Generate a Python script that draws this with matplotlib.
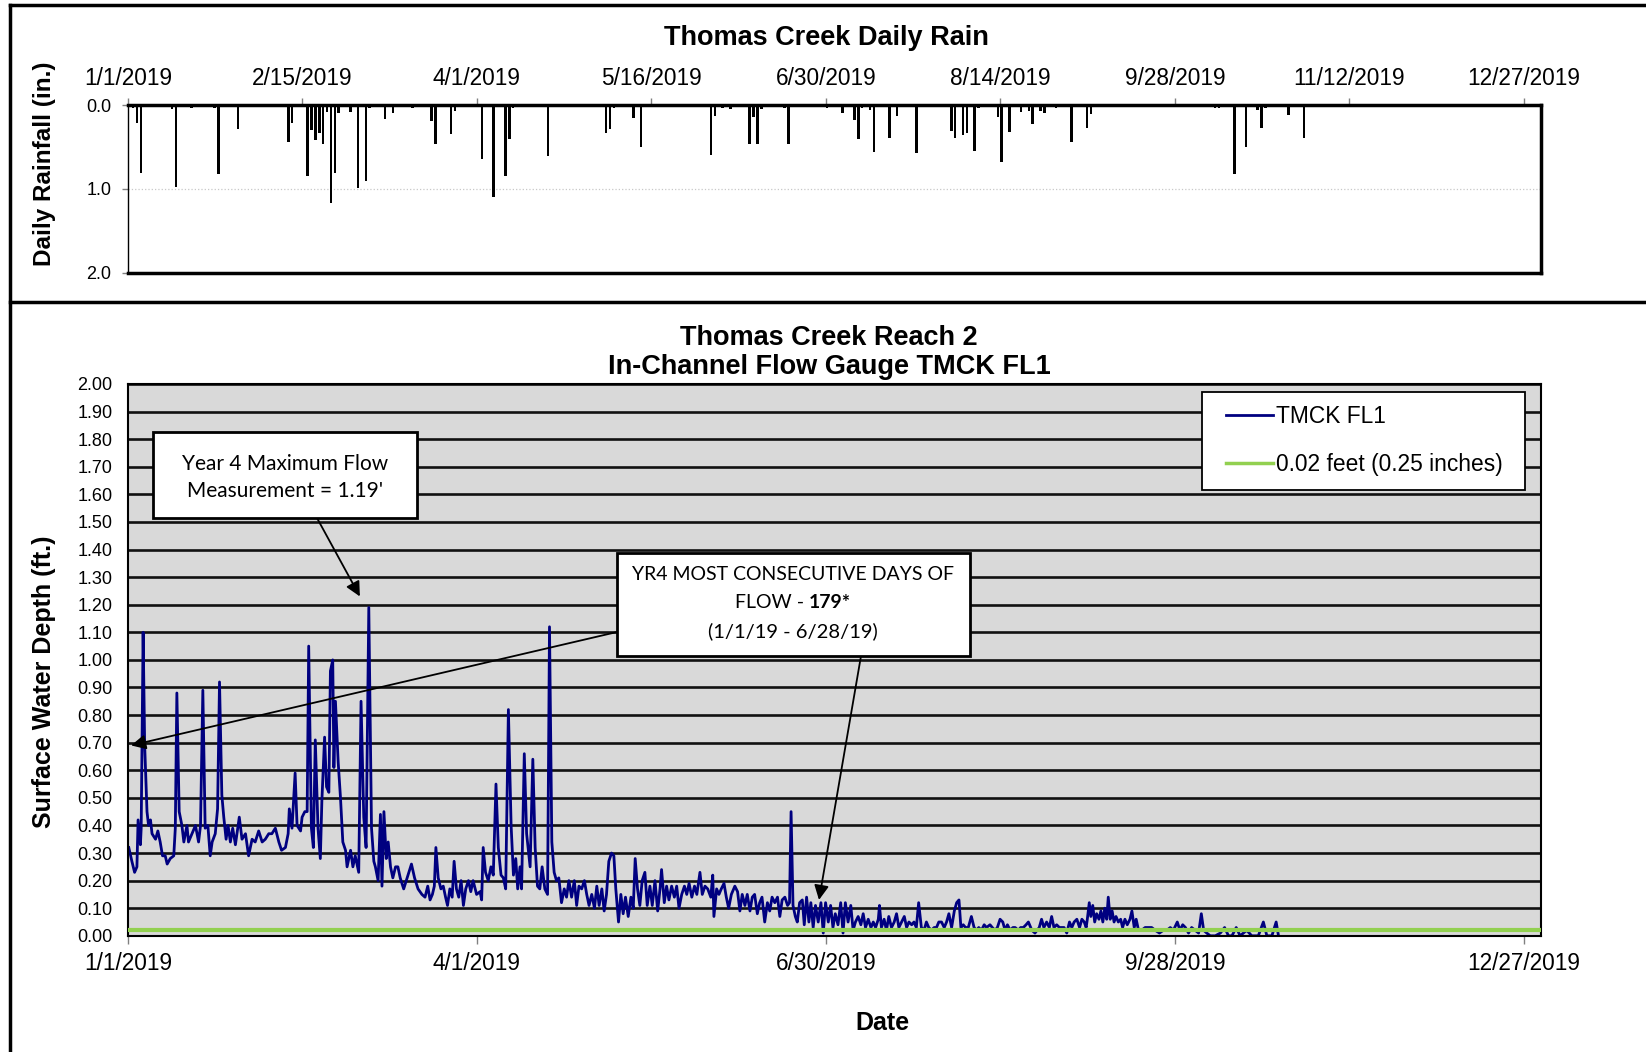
import numpy as np
import pandas as pd
import matplotlib
matplotlib.use('Agg')
import matplotlib.pyplot as plt
import matplotlib.dates as mdates
from matplotlib.lines import Line2D
from matplotlib.patches import Rectangle

plt.rcParams['font.family'] = ['Liberation Sans', 'DejaVu Sans']

# ---------------------------------------------------------
# Data
# ---------------------------------------------------------
start = pd.Timestamp('2019-01-01')

# daily rain: day of year offset from 1/1/2019, inches
rain_day = [1, 2, 3, 11, 12, 16, 22, 23, 28, 41, 42, 46, 47, 48, 49, 50, 51, 52, 53, 54,
            57, 59, 61, 62, 66, 68, 73, 78, 79, 83, 84, 91, 94, 97, 98, 99, 100, 101, 102, 103,
            108, 123, 124, 125, 130, 132, 150, 151, 153, 155, 158, 160, 161, 162, 163, 169, 170,
            180, 184, 187, 188, 189, 191, 192, 196, 198, 203, 212, 213, 215, 216, 218, 219,
            224, 225, 227, 230, 232, 233, 235, 236, 239, 243, 247, 248, 270, 280, 281, 285,
            288, 291, 292, 293, 299, 303]
rain_in = [0.03, 0.22, 0.81, 0.05, 0.98, 0.04, 0.04, 0.82, 0.29, 0.44, 0.21, 0.85, 0.30, 0.42,
           0.33, 0.47, 0.08, 1.17, 0.81, 0.09, 0.08, 0.99, 0.91, 0.03, 0.17, 0.10, 0.03, 0.19,
           0.47, 0.35, 0.07, 0.65, 1.10, 0.85, 0.40, 0.04, 0.02, 0.02, 0.02, 0.02, 0.61, 0.34,
           0.29, 0.03, 0.15, 0.50, 0.60, 0.13, 0.03, 0.05, 0.02, 0.46, 0.14, 0.46, 0.05, 0.03,
           0.47, 0.04, 0.09, 0.18, 0.40, 0.03, 0.06, 0.56, 0.39, 0.13, 0.57, 0.31, 0.39, 0.36,
           0.33, 0.55, 0.03, 0.14, 0.68, 0.32, 0.08, 0.07, 0.23, 0.07, 0.09, 0.03, 0.44, 0.27,
           0.11, 0.02, 0.03, 0.04, 0.82, 0.50, 0.06, 0.28, 0.03, 0.12, 0.39]

# flow gauge: fractional day offset from 1/1/2019, depth in feet
flow_day = [0.2, 1.0, 1.7, 2.3, 2.6, 3.2, 3.4, 3.9, 4.3, 4.9, 5.3, 5.8, 6.2, 7.1, 7.7, 8.3, 8.9,
            9.6, 10.1, 10.9, 11.8, 12.2, 12.6, 13.2, 13.9, 14.4, 15.2, 15.6, 16.5, 17.4, 18.2,
            18.7, 19.3, 19.9, 20.6, 21.2, 21.7, 22.5, 23.1, 23.6, 24.2, 24.7, 25.3, 25.8, 26.4,
            27.0, 27.7, 28.7, 29.4, 30.3, 31.1, 32.0, 32.8, 33.7, 34.6, 35.4, 36.3, 37.1, 38.0,
            38.9, 39.6, 40.6, 41.3, 41.6, 42.3, 43.1, 43.6, 44.5, 44.9, 45.6, 46.2, 46.6, 47.3,
            47.8, 48.3, 49.0, 49.6, 50.0, 50.7, 51.2, 51.8, 52.2, 52.8, 53.1, 53.5, 54.2, 54.8,
            55.4, 56.1, 56.5, 57.4, 58.0, 58.6, 59.5, 60.1, 60.8, 61.4, 62.1, 62.8, 63.4, 63.8,
            64.5, 65.1, 65.5, 66.0, 66.6, 67.1, 67.7, 68.3, 69.0, 69.6, 70.2, 71.1, 72.0, 73.1,
            73.9, 74.8, 75.8,
            76.6, 77.3, 77.9, 78.5, 79.0, 79.4, 80.0, 80.7, 81.3, 81.9, 82.4, 83.0, 83.6, 84.1,
            84.7, 85.3, 85.9, 86.5, 87.1, 87.8, 88.4, 89.0, 89.9, 90.8, 91.2, 91.6, 92.2, 92.9,
            93.6, 94.2, 94.9, 95.5, 96.2, 96.8, 97.4, 98.1, 98.8, 99.4, 100.0, 100.5, 101.1,
            101.5, 102.2, 102.8, 103.7, 104.4, 105.0, 105.6, 106.2, 106.8, 107.5, 108.2, 108.7,
            109.3, 109.9, 110.5, 111.1, 111.8, 112.5, 113.1, 113.7, 114.4, 115.1, 115.7, 116.3,
            117.0, 117.7, 118.3, 118.9, 119.6, 120.3, 120.9, 121.5, 122.2, 122.8, 123.4, 124.0,
            124.7, 125.3, 125.8, 126.5, 127.1, 127.7, 128.3, 129.0, 129.7, 130.3, 130.8, 131.4,
            132.0, 132.6, 133.3, 133.9, 134.6, 135.2, 135.9, 136.6, 137.2, 137.6, 138.3, 138.9,
            139.5, 140.2, 140.9, 141.5, 142.1, 142.8, 143.5, 144.1, 144.7, 145.4, 146.1, 146.7,
            147.5, 148.1, 148.8, 149.5,
            150.3, 150.8, 151.1, 151.8, 152.4, 153.0, 153.7, 154.3, 154.9, 155.6, 156.5, 157.2,
            157.8, 158.4, 159.1, 159.7, 160.4, 161.0, 161.6, 162.3, 162.9, 163.5, 164.2, 164.9,
            165.5, 166.1, 166.8, 167.5, 168.1, 168.7, 169.4, 170.1, 170.6, 171.0, 171.5, 172.1,
            172.6, 173.2, 173.9, 174.4, 175.0, 175.6, 176.1, 176.7, 177.3, 178.0, 178.7, 179.3,
            179.9, 180.6, 181.2, 181.8, 182.4, 183.1, 183.8, 184.4, 185.0, 185.7, 186.4, 187.0,
            187.6, 188.3, 189.0, 189.6, 190.2, 190.9, 191.6, 192.2, 192.8, 193.5, 193.8, 194.3,
            195.0, 195.6, 196.2, 196.9, 197.6, 198.2, 198.8, 199.5, 200.2, 200.8, 201.4, 202.1,
            202.7, 203.3, 203.9, 204.6, 205.3, 205.9, 206.5, 207.2, 207.9, 208.5, 209.1, 209.8,
            210.5, 211.1, 211.7, 212.4, 213.1, 213.7, 214.3, 214.8, 215.4, 216.0, 216.7, 217.5,
            218.2, 218.8, 219.4, 220.1, 220.8, 221.4, 222.3, 222.9, 223.6, 224.2,
            224.9, 225.6, 226.2, 226.8, 227.5, 228.2, 228.8, 229.6, 230.2, 230.9, 231.6, 232.2,
            233.1, 233.9, 235.0, 235.6, 236.2, 236.9, 237.6, 238.2, 238.8, 239.5, 240.2, 240.8,
            241.4, 242.1, 242.8, 243.4, 244.0, 244.7, 245.4, 246.0, 246.6, 247.1, 247.4, 247.9,
            248.3, 248.8, 249.3, 249.8, 250.4, 250.9, 251.4, 251.9, 252.4, 252.8, 253.3, 253.8,
            254.3, 254.8, 255.4, 256.0, 256.5, 257.1, 257.7, 258.4, 258.9, 259.5, 260.0, 260.6,
            261.4, 262.3, 263.2, 264.0, 264.9, 266.0, 267.0, 267.9, 268.8, 269.6, 270.6, 271.3,
            272.0, 272.7, 273.5, 274.3, 275.2, 276.1, 276.8, 277.4, 278.2, 279.1, 280.4, 281.7,
            282.8, 283.8, 284.7, 285.8, 286.8, 288.5, 289.8, 291.5, 292.8, 293.7, 295.0, 296.1,
            296.7]
flow_ft = [0.32, 0.27, 0.23, 0.25, 0.42, 0.33, 0.39, 1.10, 0.69, 0.45, 0.40, 0.42, 0.37, 0.35,
           0.38, 0.34, 0.29, 0.29, 0.26, 0.28, 0.29, 0.39, 0.88, 0.45, 0.40, 0.34, 0.40, 0.34,
           0.37, 0.40, 0.34, 0.40, 0.89, 0.39, 0.40, 0.29, 0.34, 0.37, 0.46, 0.92, 0.51, 0.43,
           0.35, 0.40, 0.34, 0.39, 0.33, 0.43, 0.35, 0.37, 0.29, 0.35, 0.34, 0.38, 0.34, 0.35,
           0.37, 0.37, 0.39, 0.34, 0.31, 0.32, 0.37, 0.46, 0.39, 0.59, 0.40, 0.38, 0.43, 0.45,
           0.45, 1.05, 0.39, 0.32, 0.71, 0.39, 0.28, 0.49, 0.72, 0.54, 0.52, 0.96, 1.00, 0.61,
           0.85, 0.63, 0.50, 0.34, 0.31, 0.25, 0.31, 0.25, 0.29, 0.23, 0.85, 0.43, 0.32, 1.19,
           0.39, 0.27, 0.25, 0.20, 0.44, 0.18, 0.45, 0.28, 0.34, 0.25, 0.21, 0.25, 0.25, 0.21,
           0.17, 0.21, 0.26, 0.21, 0.17, 0.15,
           0.14, 0.18, 0.13, 0.15, 0.18, 0.32, 0.21, 0.17, 0.18, 0.14, 0.11, 0.17, 0.14, 0.27,
           0.17, 0.14, 0.20, 0.11, 0.17, 0.20, 0.16, 0.20, 0.15, 0.16, 0.13, 0.32, 0.23, 0.20,
           0.25, 0.22, 0.55, 0.32, 0.22, 0.21, 0.17, 0.82, 0.40, 0.22, 0.28, 0.17, 0.25, 0.17,
           0.66, 0.37, 0.25, 0.64, 0.32, 0.18, 0.17, 0.25, 0.17, 0.15, 1.12, 0.34, 0.23, 0.20,
           0.21, 0.12, 0.17, 0.14, 0.20, 0.14, 0.20, 0.11, 0.18, 0.17, 0.20, 0.15, 0.11, 0.15,
           0.10, 0.18, 0.11, 0.17, 0.09, 0.15, 0.27, 0.30, 0.29, 0.17, 0.05, 0.15, 0.08, 0.14,
           0.07, 0.14, 0.10, 0.28, 0.17, 0.11, 0.20, 0.23, 0.11, 0.18, 0.11, 0.20, 0.09, 0.17,
           0.24, 0.12, 0.18, 0.13, 0.18, 0.14, 0.18, 0.10, 0.15, 0.18, 0.15, 0.19, 0.14, 0.18,
           0.15, 0.23, 0.15, 0.18, 0.17,
           0.14, 0.22, 0.07, 0.17, 0.15, 0.17, 0.19, 0.14, 0.10, 0.15, 0.18, 0.16, 0.09, 0.15,
           0.11, 0.15, 0.09, 0.14, 0.15, 0.08, 0.12, 0.14, 0.05, 0.12, 0.09, 0.14, 0.12, 0.14,
           0.07, 0.13, 0.14, 0.11, 0.12, 0.45, 0.11, 0.07, 0.05, 0.12, 0.13, 0.04, 0.14, 0.05,
           0.12, 0.03, 0.11, 0.05, 0.12, 0.01, 0.12, 0.05, 0.11, 0.03, 0.08, 0.04, 0.12, 0.01,
           0.12, 0.05, 0.11, 0.02, 0.05, 0.07, 0.04, 0.08, 0.03, 0.06, 0.03, 0.05, 0.03, 0.06,
           0.11, 0.03, 0.06, 0.02, 0.07, 0.03, 0.05, 0.08, 0.03, 0.05, 0.07, 0.03, 0.05, 0.04,
           0.05, 0.03, 0.12, 0.03, 0.02, 0.05, 0.03, 0.02, 0.03, 0.03, 0.05, 0.05, 0.03, 0.05,
           0.08, 0.03, 0.09, 0.12, 0.13, 0.03, 0.04, 0.03, 0.03, 0.07, 0.03, 0.02, 0.03, 0.02,
           0.04, 0.03, 0.04, 0.03, 0.02, 0.03,
           0.06, 0.05, 0.02, 0.04, 0.02, 0.03, 0.03, 0.02, 0.03, 0.03, 0.04, 0.05, 0.02, 0.01,
           0.03, 0.06, 0.03, 0.05, 0.03, 0.07, 0.03, 0.04, 0.03, 0.03, 0.03, 0.01, 0.05, 0.03,
           0.05, 0.06, 0.03, 0.06, 0.05, 0.03, 0.06, 0.12, 0.07, 0.11, 0.05, 0.08, 0.06, 0.09,
           0.05, 0.10, 0.06, 0.14, 0.06, 0.09, 0.05, 0.07, 0.05, 0.06, 0.03, 0.06, 0.04, 0.06,
           0.09, 0.03, 0.06, 0.02, 0.02, 0.03, 0.03, 0.03, 0.02, 0.01, 0.02, 0.02, 0.03, 0.02,
           0.05, 0.02, 0.04, 0.03, 0.01, 0.03, 0.02, 0.01, 0.08, 0.02, 0.01, 0.00, 0.00, 0.01,
           0.03, 0.00, 0.00, 0.03, 0.00, 0.02, 0.00, 0.00, 0.05, 0.00, 0.00, 0.05, 0.00]

low_flow_ft = 0.02

rain_ticks = ['1/1/2019', '2/15/2019', '4/1/2019', '5/16/2019', '6/30/2019',
              '8/14/2019', '9/28/2019', '11/12/2019', '12/27/2019']
flow_ticks = ['1/1/2019', '4/1/2019', '6/30/2019', '9/28/2019', '12/27/2019']


def to_date(days):
    return start + pd.to_timedelta(np.asarray(days, dtype=float), unit='D')


# ---------------------------------------------------------
# Figure / panel frames
# ---------------------------------------------------------
W, H = 1646, 1052
fig = plt.figure(figsize=(W / 100, H / 100), dpi=100)


def fx(px):
    return px / W


def fy(py):
    return 1 - py / H


for xs, ys in [([10, W], [5, 5]), ([10, 10], [5, H]), ([10, W], [302, 302])]:
    fig.add_artist(Line2D([fx(x) for x in xs], [fy(y) for y in ys], color='black', lw=2.5))

x_end = start + pd.Timedelta(days=364.4)
title_fs = 19.5
tick_fs = 16.3

# ---------------------------------------------------------
# Daily rain (top panel)
# ---------------------------------------------------------
ax1 = fig.add_axes([fx(128), fy(272.5), fx(1541) - fx(128), fy(105) - fy(272.5)])
ax1.bar(to_date(rain_day), rain_in, width=0.65, align='edge', color='black')
ax1.axhline(1.0, color='#c8c8c8', lw=0.9, ls=':', zorder=0)
ax1.set_ylim(2, 0)
ax1.set_xlim(start, x_end)
ax1.set_yticks([0, 1, 2])
ax1.yaxis.set_major_formatter('{x:.1f}')
ax1.xaxis.tick_top()
ax1.set_xticks(pd.to_datetime(rain_ticks))
ax1.set_xticklabels(rain_ticks)
ax1.tick_params(axis='x', direction='out', length=5, width=1, color='#808080',
                labelsize=tick_fs, pad=6)
ax1.tick_params(axis='y', direction='out', length=4, width=1, color='#808080', labelsize=13, pad=8)
for side, lw in [('top', 2.5), ('bottom', 2.5), ('right', 2.5), ('left', 1.0)]:
    ax1.spines[side].set_linewidth(lw)
fig.text(fx(45), fy(164), 'Daily Rainfall (in.)', rotation=90, fontsize=17.5,
         weight='bold', ha='center', va='center')
fig.text(fx(826), fy(38), 'Thomas Creek Daily Rain', fontsize=title_fs, weight='bold',
         ha='center', va='center')

# ---------------------------------------------------------
# Flow gauge (bottom panel)
# ---------------------------------------------------------
ax2 = fig.add_axes([fx(128), fy(935.8), fx(1541) - fx(128), fy(384) - fy(935.8)])
ax2.set_facecolor('#d9d9d9')
ax2.set_ylim(0, 2)
ax2.set_xlim(start, x_end)
ax2.set_yticks(np.arange(0, 2.001, 0.1))
ax2.yaxis.set_major_formatter('{x:.2f}')
ax2.grid(axis='y', color='#111111', lw=1.9)
ax2.set_axisbelow(True)
ax2.plot(to_date(flow_day), flow_ft, color='#000080', lw=2, zorder=2)
ax2.axhline(low_flow_ft, color='#92d050', lw=3, zorder=3)
ax2.set_xticks(pd.to_datetime(flow_ticks))
ax2.set_xticklabels(flow_ticks)
ax2.tick_params(axis='x', direction='out', length=6, width=1, color='#808080',
                labelsize=tick_fs, pad=6)
ax2.tick_params(axis='y', length=0, labelsize=13, pad=11)
for side in ax2.spines:
    ax2.spines[side].set_linewidth(1.5)

fig.text(fx(829), fy(338), 'Thomas Creek Reach 2', fontsize=title_fs, weight='bold',
         ha='center', va='center')
fig.text(fx(829), fy(367), 'In-Channel Flow Gauge TMCK FL1', fontsize=title_fs, weight='bold',
         ha='center', va='center')
fig.text(fx(44), fy(682), 'Surface Water Depth (ft.)', rotation=90, fontsize=18,
         weight='bold', ha='center', va='center')
fig.text(fx(882), fy(1023), 'Date', fontsize=18, weight='bold', ha='center', va='center')

# legend: white box with content centred in it
ax2.add_artist(Rectangle((fx(1202), fy(490)), fx(1525) - fx(1202), fy(392) - fy(490),
                         transform=fig.transFigure, facecolor='white', edgecolor='black',
                         lw=1.3, zorder=4.8, clip_on=False))
handles = [Line2D([], [], color='#000080', lw=2), Line2D([], [], color='#92d050', lw=2.5)]
leg = ax2.legend(handles, ['TMCK FL1', '0.02 feet (0.25 inches)'], loc='upper left',
                 bbox_to_anchor=(fx(1226), fy(405)), bbox_transform=fig.transFigure,
                 borderaxespad=0, borderpad=0, frameon=False,
                 fontsize=16.4, labelspacing=1.1, handlelength=2.05, handletextpad=0.15)
leg.set_zorder(5)

# ---------------------------------------------------------
# Call-out boxes and arrows
# ---------------------------------------------------------
box_font = ['Lato', 'DejaVu Sans']


def add_box(x0, y0, x1, y1):
    fig.add_artist(Rectangle((fx(x0), fy(y1)), fx(x1) - fx(x0), fy(y0) - fy(y1),
                             transform=fig.transFigure, facecolor='white',
                             edgecolor='black', lw=2, zorder=5))


def arrow(tip_day, tip_val, tail_px):
    ax2.annotate('', xy=(mdates.date2num(to_date([tip_day])[0]), tip_val),
                 xytext=(tail_px[0], H - tail_px[1]), textcoords='figure pixels',
                 arrowprops=dict(arrowstyle='-|>', mutation_scale=22, lw=1.3,
                                 color='black', shrinkA=0, shrinkB=0), zorder=4)


add_box(153, 432, 417, 518)
fig.text(fx(285), fy(464), 'Year 4 Maximum Flow', fontsize=15, family=box_font,
         ha='center', va='center', zorder=6)
fig.text(fx(285), fy(491), "Measurement = 1.19'", fontsize=15, family=box_font,
         ha='center', va='center', zorder=6)
arrow(59.8, 1.23, (317, 518))

box2_fs = 14
add_box(617, 553, 970, 656)
fig.text(fx(793), fy(575), 'YR4 MOST CONSECUTIVE DAYS OF', fontsize=box2_fs, family=box_font,
         ha='center', va='center', zorder=6)
t_a = fig.text(0, fy(602.5), 'FLOW - ', fontsize=box2_fs, family=box_font,
               ha='left', va='center', zorder=6)
t_b = fig.text(0, fy(602.5), '179*', fontsize=box2_fs, family=box_font, weight='bold',
               ha='left', va='center', zorder=6)
r = fig.canvas.get_renderer()
wa = t_a.get_window_extent(r).width
wb = t_b.get_window_extent(r).width
x0 = 793 - (wa + wb) / 2
t_a.set_x(fx(x0))
t_b.set_x(fx(x0 + wa))
fig.text(fx(793), fy(631), '(1/1/19 - 6/28/19)', fontsize=box2_fs + 0.5, family=box_font,
         ha='center', va='center', zorder=6)
arrow(0.8, 0.69, (617, 632))
arrow(178.2, 0.13, (861, 656))

fig.savefig('out.png', dpi=100)
